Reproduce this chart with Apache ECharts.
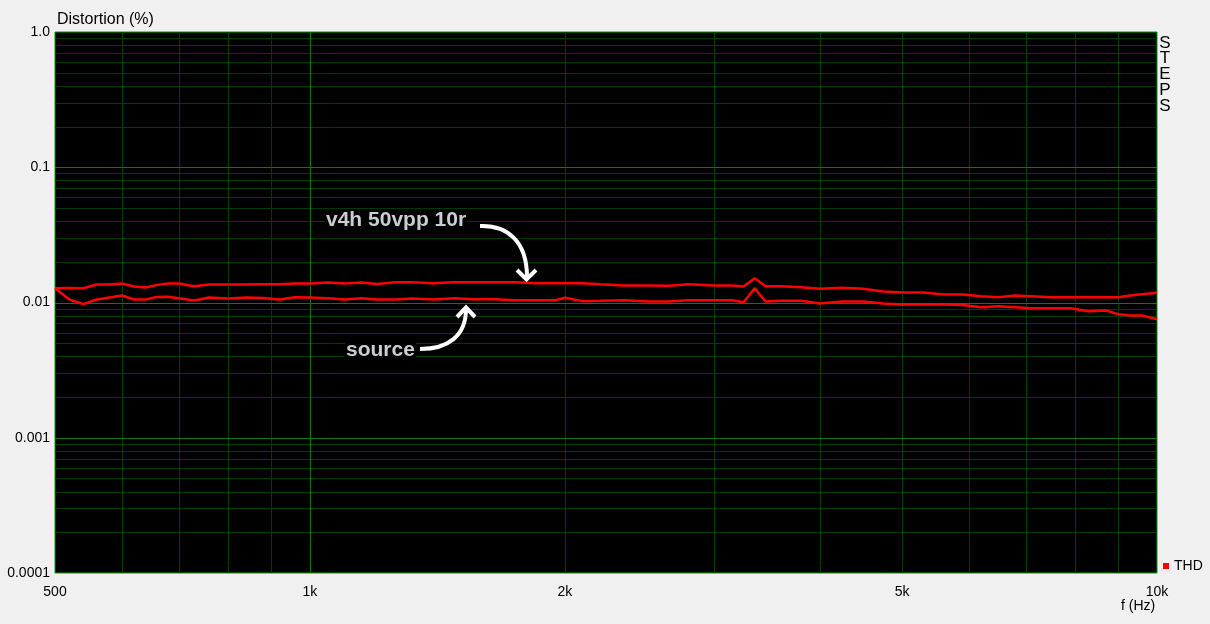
<!DOCTYPE html>
<html>
<head>
<meta charset="utf-8">
<script src="https://cdn.jsdelivr.net/npm/echarts@6/dist/echarts.min.js"></script>
<style>
html,body{margin:0;padding:0;background:#f0f0f0;}
#chart{width:1210px;height:624px;}
</style>
</head>
<body>
<div id="chart"></div>
<script>
// ---- data ----
const freqHz = [500,520,540,560,580,600,620,640,660,680,700,730,760,800,840,880,920,960,1000,1050,
  1100,1150,1200,1260,1320,1400,1480,1560,1650,1750,1850,1950,2000,2100,2200,2350,2500,2650,2800,3000,
  3150,3250,3350,3450,3600,3800,4000,4250,4500,4750,5000,5300,5600,5900,6200,6500,6800,7100,7500,7900,
  8300,8700,9000,9300,9600,10000];
const thdV4h = [0.01275,0.0128,0.01275,0.01358,0.01358,0.01381,0.01313,0.0129,0.0135,0.01381,
  0.01381,0.01319,0.01358,0.01358,0.01358,0.01365,0.01365,0.01381,0.01381,0.01405,
  0.01381,0.01405,0.0137,0.01411,0.01411,0.01388,0.01411,0.01411,0.01411,0.01411,
  0.01388,0.01388,0.01388,0.01388,0.01365,0.01335,0.01335,0.0133,0.01365,0.01335,
  0.01335,0.01313,0.01511,0.01319,0.01319,0.01297,0.01262,0.01284,0.01262,0.01206,
  0.01185,0.01185,0.01146,0.01146,0.01113,0.01094,0.01126,0.01113,0.01094,0.01094,
  0.01094,0.01094,0.01094,0.01126,0.0115,0.0118];
const thdSource = [0.01275,0.01052,0.00972,0.01052,0.01089,0.01126,0.01052,0.01052,0.011,0.01102,
  0.01076,0.01035,0.01089,0.0107,0.01089,0.0108,0.01052,0.01094,0.01089,0.01076,
  0.01052,0.01076,0.01052,0.01052,0.0107,0.01052,0.01076,0.01058,0.01058,0.0104,
  0.0104,0.0104,0.01083,0.01022,0.01029,0.0104,0.01017,0.01017,0.0104,0.0104,
  0.0104,0.01005,0.01275,0.01017,0.01029,0.01029,0.00983,0.01017,0.01017,0.00983,
  0.00967,0.00967,0.00967,0.0096,0.00923,0.00939,0.00923,0.00908,0.00908,0.00908,
  0.00863,0.00873,0.0082,0.00802,0.00802,0.00753];

const xTickValues = [500,1000,2000,5000,10000];
const xTickLabels = ['500','1k','2k','5k','10k'];
const yTickValues = [0.0001,0.001,0.01,0.1,1];
const yTickLabels = ['0.0001','0.001','0.01','0.1','1.0'];

const xMinorGrid = [600,700,800,900,2000,3000,4000,5000,6000,7000,8000,9000];
const xMajorGrid = [1000];
const yMinorGrid = [0.0002,0.0003,0.0004,0.0005,0.0006,0.0007,0.0008,0.0009,
  0.002,0.003,0.004,0.005,0.006,0.007,0.008,0.009,
  0.02,0.03,0.04,0.05,0.06,0.07,0.08,0.09,
  0.2,0.3,0.4,0.5,0.6,0.7,0.8,0.9];
const yMajorGrid = [0.001,0.01,0.1];

// ---- build ----
const FONT = '"Liberation Sans", Arial, sans-serif';
const minorColor = '#003c00';
const majorColor = '#0c780c';
const X_MIN = 500, X_MAX = 10000, Y_MIN = 0.0001, Y_MAX = 1;

function pairs(xs, ys){ return xs.map((x,i)=>[x, ys[i]]); }
function nearestLabel(vals, labels, v){
  let best=0, bd=Infinity;
  vals.forEach((t,i)=>{const d=Math.abs(Math.log10(t)-Math.log10(v)); if(d<bd){bd=d;best=i;}});
  return labels[best];
}
// grid line series: each datum [x, y, isVertical]
function gridSeries(name, items, color, z){
  return {
    name, type:'custom', silent:true, z, clip:false, animation:false,
    encode:{x:0, y:1},
    data: items,
    renderItem(params, api){
      const vert = api.value(2) === 1;
      let p1, p2;
      if (vert) { p1 = api.coord([api.value(0), Y_MIN]); p2 = api.coord([api.value(0), Y_MAX]); }
      else { p1 = api.coord([X_MIN, api.value(1)]); p2 = api.coord([X_MAX, api.value(1)]); }
      const r = v => Math.round(v) + 0.5;
      if (vert) { p1[0] = p2[0] = r(p1[0]); } else { p1[1] = p2[1] = r(p1[1]); }
      return {type:'line', shape:{x1:p1[0], y1:p1[1], x2:p2[0], y2:p2[1]},
              style:{stroke:color, lineWidth:1}};
    }
  };
}
const minorItems = xMinorGrid.map(v=>[v, Y_MIN, 1]).concat(yMinorGrid.map(v=>[X_MIN, v, 0]));
const majorItems = xMajorGrid.map(v=>[v, Y_MIN, 1]).concat(yMajorGrid.map(v=>[X_MIN, v, 0]));

const chart = echarts.init(document.getElementById('chart'), null, {renderer:'canvas'});
chart.setOption({
  animation:false,
  backgroundColor:'#f0f0f0',
  grid:{left:55, top:32, width:1102, height:541, show:true, backgroundColor:'#000',
        borderColor:'#00a000', borderWidth:1, containLabel:false},
  xAxis:{type:'log', logBase:10, min:X_MIN, max:X_MAX,
    axisLine:{show:false}, axisTick:{show:false}, splitLine:{show:false}, minorSplitLine:{show:false},
    axisLabel:{customValues:xTickValues, margin:12, color:'#000', fontSize:14, fontFamily:FONT,
      showMinLabel:true, showMaxLabel:true,
      formatter:v=>nearestLabel(xTickValues,xTickLabels,v)}},
  yAxis:{type:'log', logBase:10, min:Y_MIN, max:Y_MAX,
    axisLine:{show:false}, axisTick:{show:false}, splitLine:{show:false}, minorSplitLine:{show:false},
    axisLabel:{customValues:yTickValues, margin:5, color:'#000', fontSize:14, fontFamily:FONT,
      showMinLabel:true, showMaxLabel:true,
      formatter:v=>nearestLabel(yTickValues,yTickLabels,v)}},
  legend:{data:[{name:'THD', icon:'rect'}], left:1158, top:554, padding:5, itemWidth:6, itemHeight:6,
    textStyle:{color:'#000', fontSize:14, fontFamily:FONT}, selectedMode:false},
  series:[
    gridSeries('minorGrid', minorItems, minorColor, 1),
    gridSeries('majorGrid', majorItems, majorColor, 1),
    {name:'THD', type:'line', data:pairs(freqHz, thdV4h), showSymbol:false, z:3,
     lineStyle:{color:'#ff0000', width:2.5}, itemStyle:{color:'#ff0000'}, silent:true},
    {name:'source', type:'line', data:pairs(freqHz, thdSource), showSymbol:false, z:3,
     lineStyle:{color:'#ff0000', width:2.5}, itemStyle:{color:'#ff0000'}, silent:true}
  ],
  graphic:[
    {type:'text', x:57, y:20, z:100, style:{text:'Distortion (%)', font:'16px '+FONT, fill:'#000', textAlign:'left', textVerticalAlign:'middle'}},
    {type:'text', x:1121, y:606, z:100, style:{text:'f (Hz)', font:'14px '+FONT, fill:'#000', textAlign:'left', textVerticalAlign:'middle'}},
    {type:'text', x:1165, y:35, z:100, style:{text:'S\nT\nE\nP\nS', font:'17px '+FONT, lineHeight:15.8, fill:'#000', textAlign:'center', textVerticalAlign:'top'}},
    {type:'text', x:325, y:220, z:100, style:{text:'v4h 50vpp 10r', font:'bold 21px '+FONT, fill:'#c8ced4', backgroundColor:'#000', padding:[0,1], textAlign:'left', textVerticalAlign:'middle'}},
    {type:'text', x:345, y:350, z:100, style:{text:'source', font:'bold 21px '+FONT, fill:'#c8ced4', backgroundColor:'#000', padding:[0,1], textAlign:'left', textVerticalAlign:'middle'}},
    {type:'bezierCurve', z:100, shape:{x1:480,y1:226,cpx1:507,cpy1:225,cpx2:527,cpy2:241,x2:527,y2:277}, style:{stroke:'#fff', lineWidth:4, fill:null}},
    {type:'polyline', z:100, shape:{points:[[517,270],[526.5,279.5],[536,270]]}, style:{stroke:'#fff', lineWidth:4, fill:null}},
    {type:'bezierCurve', z:100, shape:{x1:420,y1:349,cpx1:448,cpy1:349,cpx2:466,cpy2:336,x2:466,y2:309}, style:{stroke:'#fff', lineWidth:4, fill:null}},
    {type:'polyline', z:100, shape:{points:[[457,317],[466,307.5],[475,317]]}, style:{stroke:'#fff', lineWidth:4, fill:null}}
  ]
});
</script>
</body>
</html>
